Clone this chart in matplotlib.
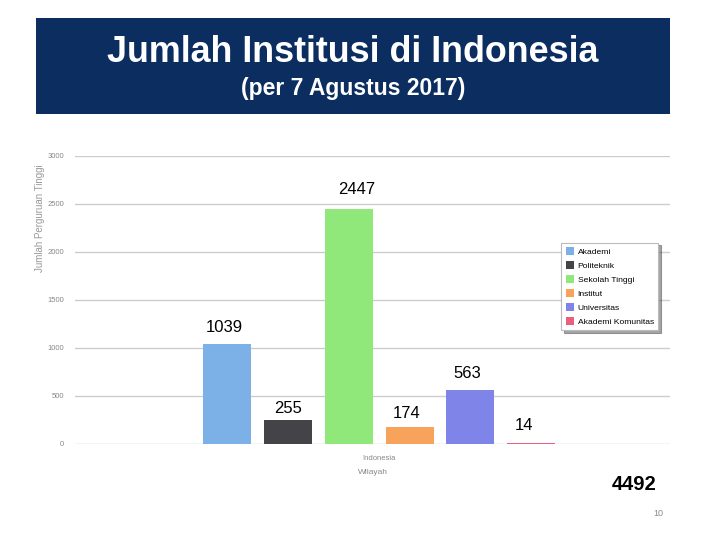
import matplotlib
matplotlib.use("Agg")
import matplotlib.pyplot as plt
from matplotlib.patches import Rectangle

plt.rcParams['font.family'] = ['Liberation Sans', 'DejaVu Sans']

# data
categories = ['Akademi', 'Politeknik', 'Sekolah Tinggi', 'Institut', 'Universitas', 'Akademi Komunitas']
counts = [1039, 255, 2447, 174, 563, 14]
total = 4492
yticks = [0, 500, 1000, 1500, 2000, 2500, 3000]

colors = ['#7cb1e8', '#434348', '#90e87a', '#f7a35c', '#7f85e8', '#e8607f']
label_offsets = [(-2, 12), (0, 8), (6, 14), (-2, 10), (-2, 12), (-5, 12)]  # points

fig = plt.figure(figsize=(7.2, 5.4), dpi=100)

# title banner
fig.patches.append(Rectangle((36/720, 1-114/540), 634/720, 96/540, transform=fig.transFigure,
                             facecolor='#0b2d5f', edgecolor='none', zorder=0))
fig.text(353/720, 1-52/540, 'Jumlah Institusi di Indonesia', color='white', fontsize=25.8,
         fontweight='bold', ha='center', va='center')
fig.text(353/720, 1-88/540, '(per 7 Agustus 2017)', color='white', fontsize=16.5,
         fontweight='bold', ha='center', va='center')

ax = fig.add_axes([75/720, 1-444/540, 595/720, 288/540])
x = [i for i in range(len(categories))]
bars = ax.bar(x, counts, width=0.79, color=colors, label=categories, zorder=3)
for xi, v, off in zip(x, counts, label_offsets):
    ax.annotate(str(v), (xi, v), xytext=off, textcoords='offset points',
                ha='center', va='center', fontsize=12, color='black')

ax.set_xlim(-2.51, 7.29)
ax.set_ylim(0, 3000)
ax.set_yticks(yticks)
ax.set_yticklabels([str(t) for t in yticks], fontsize=5.5, color='#888888')
ax.tick_params(axis='y', length=0, pad=8)
ax.set_xticks([2.5])
ax.set_xticklabels(['Indonesia'], fontsize=5.5, color='#888888')
ax.tick_params(axis='x', length=0, pad=8)
ax.set_xlabel('Wilayah', fontsize=6, color='#888888', labelpad=5)
ax.grid(axis='y', color='#cccccc', lw=1, zorder=0)
for s in ax.spines.values():
    s.set_visible(False)

fig.text(40/720, 1-218/540, 'Jumlah Perguruan Tinggi', rotation=90, fontsize=7,
         color='#999999', ha='center', va='center')

leg = ax.legend(loc='upper right', bbox_to_anchor=(661/720, 1-240/540),
                bbox_transform=fig.transFigure, fontsize=6.1, frameon=True, fancybox=False,
                shadow=True, handlelength=1.0, handleheight=1.0, handletextpad=0.4,
                labelspacing=0.62, borderpad=0.55, borderaxespad=0.3, framealpha=1)
leg.get_frame().set_edgecolor('#bbbbbb')
leg.get_frame().set_linewidth(0.8)

fig.text(634/720, 1-484/540, str(total), fontsize=14.5, fontweight='bold', ha='center', va='center')
fig.text(658/720, 1-514/540, '10', fontsize=6.5, color='#888888', ha='center', va='center')

fig.savefig('out.png', dpi=100)
